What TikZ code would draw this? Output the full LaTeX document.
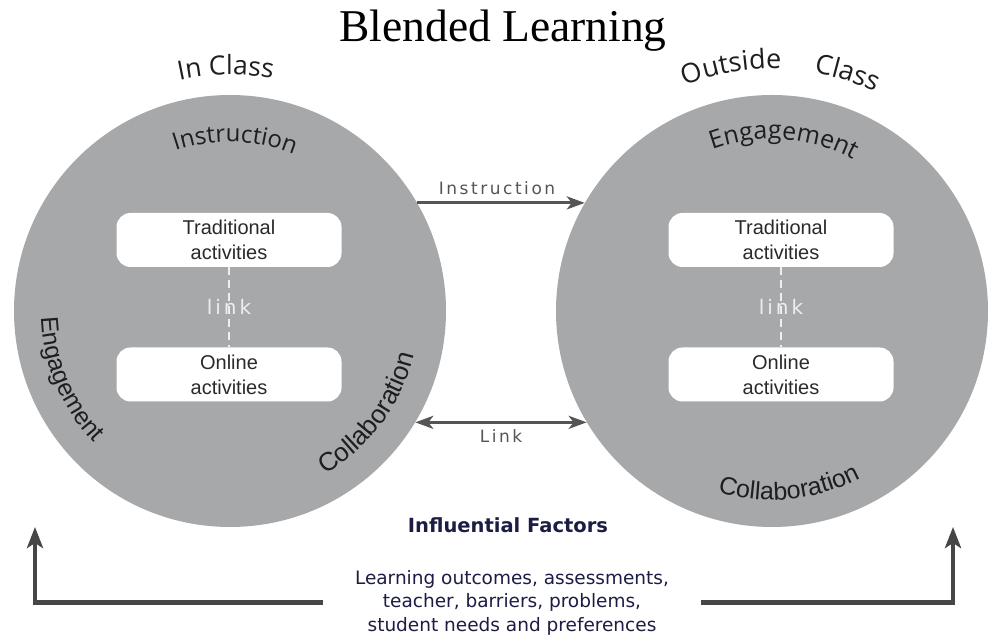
\documentclass[tikz,border=0pt]{standalone}
\usepackage{fontspec}
\setmainfont{Liberation Serif}
\newfontfamily\osans{Open Sans}
\newfontfamily\lsans{Liberation Sans}
\newfontfamily\lsanssp[LetterSpace=4]{Liberation Sans}
\newfontfamily\dvs{DejaVu Sans}
\newfontfamily\dvsls[LetterSpace=15]{DejaVu Sans}
\usetikzlibrary{decorations.text,arrows.meta,calc}
\definecolor{circ}{HTML}{A7A8AA}
\definecolor{arr}{HTML}{555555}
\definecolor{arrb}{HTML}{464646}
\definecolor{dk}{HTML}{1E1E1E}
\definecolor{boxtxt}{HTML}{2A2A2A}
\definecolor{linkc}{HTML}{EEEEEE}
\definecolor{navy}{HTML}{1C1C44}
% clockwise arc text (tops outward)
\newcommand\cwtext[5]{%
  \path[decorate,decoration={text along path,text align=center,text={|#4|#5}}]
    ($(#1)+(#3+45:#2pt)$) arc[start angle=#3+45,end angle=#3-45,radius=#2pt];}
% counterclockwise arc text (tops inward)
\newcommand\ccwtext[5]{%
  \path[decorate,decoration={text along path,text align=center,text={|#4|#5}}]
    ($(#1)+(#3-45:#2pt)$) arc[start angle=#3-45,end angle=#3+45,radius=#2pt];}
\begin{document}
\begin{tikzpicture}[x=1pt,y=1pt,
  bigcircle/.style={circle,fill=circ,draw=none,minimum size=432pt,inner sep=0pt},
  actbox/.style={rounded corners=14pt,fill=white,minimum width=225pt,minimum height=54pt,inner sep=0pt,align=center,font=\lsans\fontsize{20}{25}\selectfont,text=boxtxt},
  linklbl/.style={font=\dvsls\fontsize{20}{24}\selectfont,text=linkc,inner sep=0pt},
  linkline/.style={draw=linkc,line width=1.4pt,dash pattern=on 8pt off 5pt},
  midarrow/.style={draw=arr,line width=3pt,-{Stealth[length=18pt,width=13pt,inset=5pt]}},
  midarrows/.style={draw=arr,line width=3pt,{Stealth[length=18pt,width=13pt,inset=5pt]}-{Stealth[length=18pt,width=13pt,inset=5pt]}},
  arrlbl/.style={font=\dvsls\fontsize{17}{20}\selectfont,text=arr,inner sep=0pt,anchor=base},
  bigarrow/.style={draw=arrb,line width=4.5pt,-{Stealth[length=21pt,width=16pt,inset=5pt]}},
]
\useasboundingbox (0,0) rectangle (989,640);
\fill[white] (0,0) rectangle (989,640);

\node[anchor=base,font=\fontsize{45.5}{50}\selectfont,inner sep=0pt] (title) at (503,598) {Blended Learning};

\node[bigcircle] (c1) at (230,329) {};
\node[bigcircle] (c2) at (772,329) {};

% left circle
\node[actbox] (t1) at (229,400) {Traditional\\activities};
\node[actbox] (o1) at (229,265.5) {Online\\activities};
\draw[linkline] (t1.south) -- (o1.north);
\node[linklbl] (l1) at (229,333) {link};

% right circle
\node[actbox] (t2) at (781,400) {Traditional\\activities};
\node[actbox] (o2) at (781,265.5) {Online\\activities};
\draw[linkline] (t2.south) -- (o2.north);
\node[linklbl] (l2) at (781,333) {link};

% arc labels
\cwtext{c1}{236}{91}{\osans\fontsize{26.5}{30}\selectfont\color{dk}}{In Class}
\cwtext{c1}{169}{88.3}{\osans\fontsize{24}{28}\selectfont\color{dk}}{Instruction}
\ccwtext{c1}{189}{203}{\lsanssp\fontsize{24.5}{30}\selectfont\color{dk}}{Engagement}
\ccwtext{c1}{189}{323.4}{\lsanssp\fontsize{26}{30}\selectfont\color{dk}}{Collaboration}

\cwtext{c2}{242}{99.5}{\osans\fontsize{27}{30}\selectfont\color{dk}}{Outside}
\cwtext{c2}{242}{72.4}{\osans\fontsize{27}{30}\selectfont\color{dk}}{Class}
\cwtext{c2}{172}{86}{\osans\fontsize{25}{30}\selectfont\color{dk}}{Engagement}
\ccwtext{c2}{189}{275.6}{\lsanssp\fontsize{25}{30}\selectfont\color{dk}}{Collaboration}

% middle arrows
\draw[midarrow] (c1.30) -- (c2.150);
\node[arrlbl] (ilbl) at (497,445) {Instruction};
\draw[midarrows] (c1.-31.2) -- (c2.211.2);
\node[arrlbl] (llbl) at (501,197) {Link};

% influential factors
\node[anchor=base,font=\dvs\bfseries\fontsize{19.5}{24}\selectfont,text=navy,inner sep=0pt] (inf) at (508,107) {Influential Factors};
\node[font=\dvs\fontsize{18.5}{23.5}\selectfont,text=navy,align=center,inner ysep=0pt,inner xsep=32pt] (fac) at (512,37.5)
  {Learning outcomes, assessments,\\teacher, barriers, problems,\\student needs and preferences};
\coordinate (la) at (35,113);
\coordinate (ra) at (953,113);
\draw[bigarrow] (fac.west) -| (la);
\draw[bigarrow] (fac.east) -| (ra);
\end{tikzpicture}
\end{document}
